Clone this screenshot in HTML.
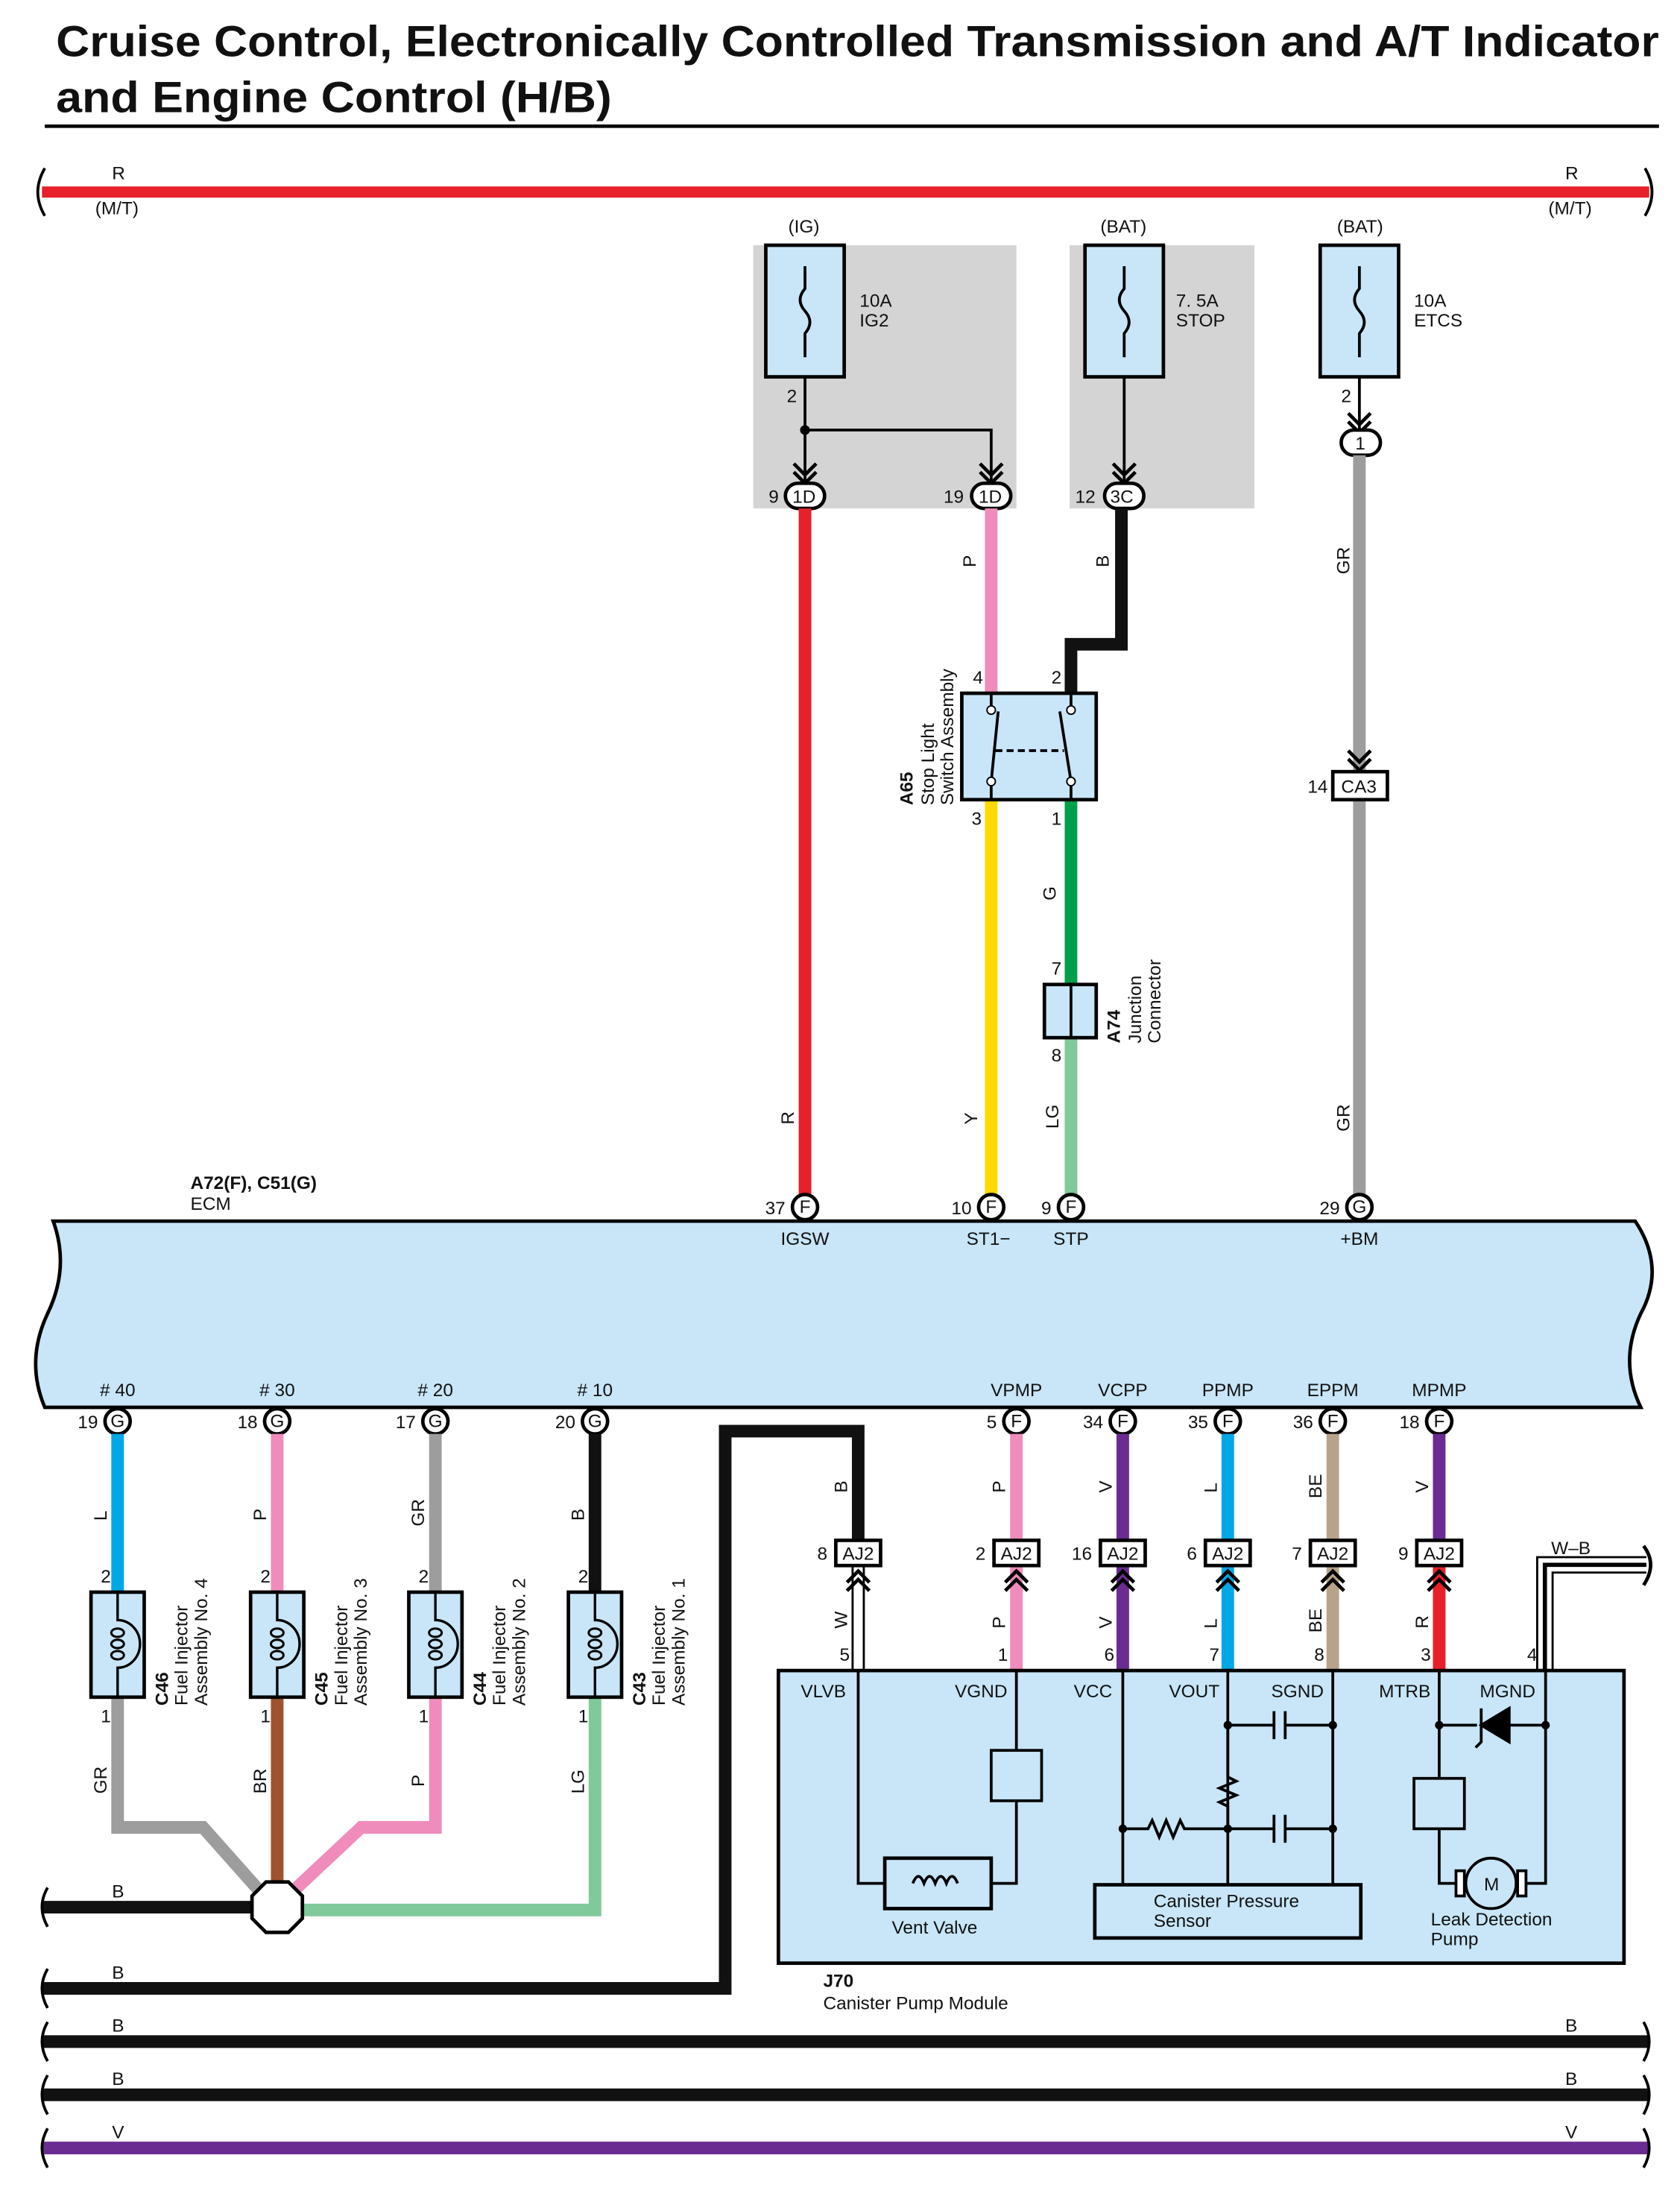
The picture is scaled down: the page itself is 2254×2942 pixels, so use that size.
<!DOCTYPE html>
<html><head><meta charset="utf-8"><style>
html,body{margin:0;padding:0;background:#fff}
svg{display:block}
text{font-family:"Liberation Sans",sans-serif;font-size:13px;fill:#111}
.t{font-weight:bold;font-size:31px}
.b{font-weight:bold}
</style></head><body>
<svg width="2254" height="2942" viewBox="0 0 1200 1566" xmlns="http://www.w3.org/2000/svg">
<defs>
<g id="chev"><path d="M-8,-12 L0,-4 L8,-12 M-8,-6 L0,2 L8,-6" fill="none" stroke="#000" stroke-width="2.5"/></g>
<g id="chevu"><path d="M-8,4 L0,-4 L8,4 M-8,10 L0,2 L8,10" fill="none" stroke="#000" stroke-width="2.5"/></g>
<g id="inj">
<rect x="-19" y="1137" width="38" height="75" fill="#c8e6f8" stroke="#000" stroke-width="2.5"/>
<path d="M0,1137 V1157 A8,8.5 0 0 1 0,1191 V1212" fill="none" stroke="#000" stroke-width="1.8"/>
<g fill="none" stroke="#000" stroke-width="1.6">
<ellipse cx="0" cy="1166" rx="4.5" ry="3"/><ellipse cx="0" cy="1174" rx="4.5" ry="3"/><ellipse cx="0" cy="1182" rx="4.5" ry="3"/>
</g>
<text x="-12" y="1130">2</text><text x="-12" y="1230">1</text>
</g>
</defs>
<text x="40" y="40" class="t" textLength="1145" lengthAdjust="spacingAndGlyphs">Cruise Control, Electronically Controlled Transmission and A/T Indicator</text>
<text x="40" y="80" class="t" textLength="397" lengthAdjust="spacingAndGlyphs">and Engine Control (H/B)</text>
<line x1="32" y1="90" x2="1185" y2="90" stroke="#000" stroke-width="2.5"/>

<line x1="30" y1="137" x2="1178" y2="137" stroke="#e8202a" stroke-width="8"/>
<path d="M32,120 Q22,137 32,154 M1175,120 Q1185,137 1175,154" fill="none" stroke="#000" stroke-width="2"/>
<text x="80" y="128">R</text><text x="68" y="153">(M/T)</text>
<text x="1118" y="128">R</text><text x="1106" y="153">(M/T)</text>

<rect x="538" y="175" width="188" height="188" fill="#d4d4d5"/>
<rect x="764" y="175" width="132" height="188" fill="#d4d4d5"/>
<text x="563" y="166">(IG)</text><text x="786" y="166">(BAT)</text><text x="955" y="166">(BAT)</text>
<g fill="#c8e6f8" stroke="#000" stroke-width="2.5">
<rect x="547" y="175" width="56" height="94"/><rect x="775" y="175" width="56" height="94"/><rect x="943" y="175" width="56" height="94"/>
</g>
<g fill="none" stroke="#000" stroke-width="2">
<path d="M575,190 L575,206 Q568,214 575,222 Q582,230 575,238 L575,255"/>
<path d="M803,190 L803,206 Q796,214 803,222 Q810,230 803,238 L803,255"/>
<path d="M971,190 L971,206 Q964,214 971,222 Q978,230 971,238 L971,255"/>
</g>
<text x="614" y="219">10A</text><text x="614" y="233">IG2</text>
<text x="840" y="219">7. 5A</text><text x="840" y="233">STOP</text>
<text x="1010" y="219">10A</text><text x="1010" y="233">ETCS</text>
<text x="562" y="287">2</text><text x="958" y="287">2</text>
<g stroke="#000" stroke-width="2" fill="none">
<path d="M575,269 V345 M575,307 H708 V345 M803,269 V345 M971,269 V310"/>
</g>
<circle cx="575" cy="307" r="3.5"/>
<use href="#chev" x="575" y="343"/><use href="#chev" x="708" y="343"/><use href="#chev" x="803" y="343"/><use href="#chev" x="971" y="307"/>
<g fill="#fff" stroke="#000" stroke-width="2.5">
<rect x="561" y="345" width="28" height="18" rx="9"/><rect x="694" y="345" width="28" height="18" rx="9"/><rect x="789" y="345" width="28" height="18" rx="9"/>
<rect x="958" y="307" width="28" height="18" rx="9"/>
</g>
<text x="566" y="359">1D</text><text x="699" y="359">1D</text><text x="793" y="359">3C</text><text x="968" y="321">1</text>
<text x="549" y="359">9</text><text x="674" y="359">19</text><text x="768" y="359">12</text>

<line x1="575" y1="363" x2="575" y2="853" stroke="#e8202a" stroke-width="9"/>
<line x1="708" y1="363" x2="708" y2="495" stroke="#f08cbb" stroke-width="9"/>
<path d="M801,363 V460 H765 V495" fill="none" stroke="#111" stroke-width="9"/>
<line x1="708" y1="571" x2="708" y2="853" stroke="#ffda00" stroke-width="9"/>
<line x1="765" y1="571" x2="765" y2="703" stroke="#00a04a" stroke-width="9"/>
<line x1="765" y1="741" x2="765" y2="853" stroke="#80c99b" stroke-width="9"/>
<line x1="971" y1="325" x2="971" y2="551" stroke="#9d9d9d" stroke-width="9"/>
<line x1="971" y1="571" x2="971" y2="853" stroke="#9d9d9d" stroke-width="9"/>
<use href="#chev" x="971" y="548"/>
<g font-size="13">
<text transform="translate(697,405) rotate(-90)">P</text>
<text transform="translate(792,405) rotate(-90)">B</text>
<text transform="translate(964,410) rotate(-90)">GR</text>
<text transform="translate(754,643) rotate(-90)">G</text>
<text transform="translate(567,803) rotate(-90)">R</text>
<text transform="translate(698,803) rotate(-90)">Y</text>
<text transform="translate(756,806) rotate(-90)">LG</text>
<text transform="translate(964,808) rotate(-90)">GR</text>
</g>
<rect x="687" y="495" width="96" height="76" fill="#c8e6f8" stroke="#000" stroke-width="2.5"/>
<g stroke="#000" stroke-width="2" fill="none">
<path d="M708,495 V507 M708,558 V571 M708,558 L713,508 M765,495 V507 M765,558 V571 M765,558 L757,508"/>
<path d="M711,536 H760" stroke-dasharray="5,3"/>
</g>
<circle cx="708" cy="507" r="3" fill="#fff" stroke="#000"/><circle cx="708" cy="558" r="3" fill="#fff" stroke="#000"/>
<circle cx="765" cy="507" r="3" fill="#fff" stroke="#000"/><circle cx="765" cy="558" r="3" fill="#fff" stroke="#000"/>
<text x="695" y="488">4</text><text x="751" y="488">2</text><text x="694" y="589">3</text><text x="751" y="589">1</text>
<text transform="translate(652,575) rotate(-90)" class="b">A65</text>
<text transform="translate(667,575) rotate(-90)">Stop Light</text>
<text transform="translate(681,575) rotate(-90)">Switch Assembly</text>
<rect x="746" y="703" width="37" height="38" fill="#c8e6f8" stroke="#000" stroke-width="2.5"/>
<line x1="765" y1="703" x2="765" y2="741" stroke="#000" stroke-width="2"/>
<text x="751" y="696">7</text><text x="751" y="758">8</text>
<text transform="translate(800,745) rotate(-90)" class="b">A74</text>
<text transform="translate(815,745) rotate(-90)">Junction</text>
<text transform="translate(829,745) rotate(-90)">Connector</text>
<rect x="952" y="551" width="39" height="20" fill="#fff" stroke="#000" stroke-width="2.5"/>
<text x="958" y="566">CA3</text><text x="934" y="566">14</text>

<text x="136" y="849" class="b">A72(F), C51(G)</text><text x="136" y="864">ECM</text>
<path d="M38,872 H1168 Q1190,905 1172,938 Q1156,972 1172,1005 H32 Q18,972 34,938 Q50,905 38,872 Z" fill="#c8e6f8" stroke="#000" stroke-width="2.5"/>
<g fill="#fff" stroke="#000" stroke-width="2.5">
<circle cx="575" cy="862" r="9"/><circle cx="708" cy="862" r="9"/><circle cx="765" cy="862" r="9"/><circle cx="971" cy="862" r="9"/>
<circle cx="84" cy="1015" r="9"/><circle cx="198" cy="1015" r="9"/><circle cx="311" cy="1015" r="9"/><circle cx="425" cy="1015" r="9"/>
<circle cx="726" cy="1015" r="9"/><circle cx="802" cy="1015" r="9"/><circle cx="877" cy="1015" r="9"/><circle cx="952" cy="1015" r="9"/><circle cx="1028" cy="1015" r="9"/>
</g>
<g font-size="12" text-anchor="middle">
<text x="575" y="866">F</text><text x="708" y="866">F</text><text x="765" y="866">F</text><text x="971" y="866">G</text>
<text x="84" y="1019">G</text><text x="198" y="1019">G</text><text x="311" y="1019">G</text><text x="425" y="1019">G</text>
<text x="726" y="1019">F</text><text x="802" y="1019">F</text><text x="877" y="1019">F</text><text x="952" y="1019">F</text><text x="1028" y="1019">F</text>
</g>
<g text-anchor="end">
<text x="561" y="867">37</text><text x="694" y="867">10</text><text x="751" y="867">9</text><text x="957" y="867">29</text>
<text x="70" y="1020">19</text><text x="184" y="1020">18</text><text x="297" y="1020">17</text><text x="411" y="1020">20</text>
<text x="712" y="1020">5</text><text x="788" y="1020">34</text><text x="863" y="1020">35</text><text x="938" y="1020">36</text><text x="1014" y="1020">18</text>
</g>
<g text-anchor="middle">
<text x="575" y="889">IGSW</text><text x="706" y="889">ST1−</text><text x="765" y="889">STP</text><text x="971" y="889">+BM</text>
<text x="84" y="997"># 40</text><text x="198" y="997"># 30</text><text x="311" y="997"># 20</text><text x="425" y="997"># 10</text>
<text x="726" y="997">VPMP</text><text x="802" y="997">VCPP</text><text x="877" y="997">PPMP</text><text x="952" y="997">EPPM</text><text x="1028" y="997">MPMP</text>
</g>

<g stroke-width="9" fill="none">
<line x1="84" y1="1024" x2="84" y2="1137" stroke="#00a8e6"/>
<line x1="198" y1="1024" x2="198" y2="1137" stroke="#f08cbb"/>
<line x1="311" y1="1024" x2="311" y2="1137" stroke="#9d9d9d"/>
<line x1="425" y1="1024" x2="425" y2="1137" stroke="#111"/>
<path d="M84,1212 V1305 H145 L185,1350" stroke="#9d9d9d"/>
<line x1="198" y1="1212" x2="198" y2="1350" stroke="#a0522d"/>
<path d="M311,1212 V1305 H258 L210,1350" stroke="#f08cbb"/>
<path d="M425,1212 V1364 H215" stroke="#80c99b"/>
<line x1="30" y1="1362" x2="182" y2="1362" stroke="#111"/>
</g>
<polygon points="190,1344 206,1344 216,1354 216,1370 206,1380 190,1380 180,1370 180,1354" fill="#fff" stroke="#000" stroke-width="2.5"/>
<path d="M34,1348 Q26,1362 34,1376" fill="none" stroke="#000" stroke-width="2"/>
<text x="80" y="1355">B</text>
<g>
<text transform="translate(76,1086) rotate(-90)">L</text>
<text transform="translate(190,1086) rotate(-90)">P</text>
<text transform="translate(303,1090) rotate(-90)">GR</text>
<text transform="translate(417,1086) rotate(-90)">B</text>
<text transform="translate(76,1281) rotate(-90)">GR</text>
<text transform="translate(190,1281) rotate(-90)">BR</text>
<text transform="translate(303,1276) rotate(-90)">P</text>
<text transform="translate(417,1281) rotate(-90)">LG</text>
</g>
<use href="#inj" x="84"/><use href="#inj" x="198"/><use href="#inj" x="311"/><use href="#inj" x="425"/>
<g>
<text transform="translate(120,1218) rotate(-90)" class="b">C46</text><text transform="translate(134,1218) rotate(-90)">Fuel Injector</text><text transform="translate(148,1218) rotate(-90)">Assembly No.  4</text>
<text transform="translate(234,1218) rotate(-90)" class="b">C45</text><text transform="translate(248,1218) rotate(-90)">Fuel Injector</text><text transform="translate(262,1218) rotate(-90)">Assembly No.  3</text>
<text transform="translate(347,1218) rotate(-90)" class="b">C44</text><text transform="translate(361,1218) rotate(-90)">Fuel Injector</text><text transform="translate(375,1218) rotate(-90)">Assembly No.  2</text>
<text transform="translate(461,1218) rotate(-90)" class="b">C43</text><text transform="translate(475,1218) rotate(-90)">Fuel Injector</text><text transform="translate(489,1218) rotate(-90)">Assembly No.  1</text>
</g>

<g stroke-width="9" fill="none">
<path d="M30,1420 H518 V1022 H613 V1100" stroke="#111"/>
<line x1="726" y1="1024" x2="726" y2="1100" stroke="#f08cbb"/>
<line x1="802" y1="1024" x2="802" y2="1100" stroke="#6a2c91"/>
<line x1="877" y1="1024" x2="877" y2="1100" stroke="#00a8e6"/>
<line x1="952" y1="1024" x2="952" y2="1100" stroke="#b8a38a"/>
<line x1="1028" y1="1024" x2="1028" y2="1100" stroke="#6a2c91"/>
<line x1="726" y1="1118" x2="726" y2="1193" stroke="#f08cbb"/>
<line x1="802" y1="1118" x2="802" y2="1193" stroke="#6a2c91"/>
<line x1="877" y1="1118" x2="877" y2="1193" stroke="#00a8e6"/>
<line x1="952" y1="1118" x2="952" y2="1193" stroke="#b8a38a"/>
<line x1="1028" y1="1118" x2="1028" y2="1193" stroke="#e8202a"/>
</g>
<g stroke="#000" stroke-width="1.5" fill="none"><path d="M609,1118 V1193 M617,1118 V1193"/></g>
<g fill="none">
<path d="M1103.5,1193 V1117.5 H1176" stroke="#000" stroke-width="12.5"/>
<path d="M1103.5,1195 V1117.5 H1178" stroke="#fff" stroke-width="9.5"/>
<path d="M1103.5,1193 V1117.5 H1176" stroke="#000" stroke-width="3"/>
<path d="M1174,1104 Q1184,1117 1174,1132" stroke="#000" stroke-width="2.5"/>
</g>
<path d="M34,1406 Q26,1420 34,1434" fill="none" stroke="#000" stroke-width="2"/>
<text x="80" y="1413">B</text>
<text x="1108" y="1110">W–B</text>
<g fill="#fff" stroke="#000" stroke-width="2.5">
<rect x="597" y="1100" width="32" height="18"/><rect x="710" y="1100" width="32" height="18"/><rect x="786" y="1100" width="32" height="18"/><rect x="861" y="1100" width="32" height="18"/><rect x="936" y="1100" width="32" height="18"/><rect x="1012" y="1100" width="32" height="18"/>
</g>
<g font-size="12" text-anchor="middle">
<text x="613" y="1114">AJ2</text><text x="726" y="1114">AJ2</text><text x="802" y="1114">AJ2</text><text x="877" y="1114">AJ2</text><text x="952" y="1114">AJ2</text><text x="1028" y="1114">AJ2</text>
</g>
<g text-anchor="end"><text x="591" y="1114">8</text><text x="704" y="1114">2</text><text x="780" y="1114">16</text><text x="855" y="1114">6</text><text x="930" y="1114">7</text><text x="1006" y="1114">9</text></g>
<use href="#chevu" x="613" y="1126"/><use href="#chevu" x="726" y="1126"/><use href="#chevu" x="802" y="1126"/><use href="#chevu" x="877" y="1126"/><use href="#chevu" x="952" y="1126"/><use href="#chevu" x="1028" y="1126"/>
<g>
<text transform="translate(605,1066) rotate(-90)">B</text><text transform="translate(718,1066) rotate(-90)">P</text><text transform="translate(794,1066) rotate(-90)">V</text><text transform="translate(869,1066) rotate(-90)">L</text><text transform="translate(944,1070) rotate(-90)">BE</text><text transform="translate(1020,1066) rotate(-90)">V</text>
<text transform="translate(605,1163) rotate(-90)">W</text><text transform="translate(718,1163) rotate(-90)">P</text><text transform="translate(794,1163) rotate(-90)">V</text><text transform="translate(869,1163) rotate(-90)">L</text><text transform="translate(944,1166) rotate(-90)">BE</text><text transform="translate(1020,1163) rotate(-90)">R</text>
</g>
<g text-anchor="end"><text x="607" y="1186">5</text><text x="720" y="1186">1</text><text x="796" y="1186">6</text><text x="871" y="1186">7</text><text x="946" y="1186">8</text><text x="1022" y="1186">3</text><text x="1098" y="1186">4</text></g>

<rect x="556" y="1193" width="604" height="209" fill="#c8e6f8" stroke="#000" stroke-width="2.5"/>
<text x="572" y="1212">VLVB</text><text x="682" y="1212">VGND</text><text x="767" y="1212">VCC</text><text x="835" y="1212">VOUT</text><text x="908" y="1212">SGND</text><text x="985" y="1212">MTRB</text><text x="1057" y="1212">MGND</text>
<g stroke="#000" stroke-width="2" fill="none">
<path d="M613,1193 V1345 H632"/>
<path d="M726,1193 V1250 M726,1286 V1345 H708"/>
<rect x="708" y="1250" width="36" height="36"/>
<rect x="632" y="1327" width="76" height="36" stroke-width="2.5"/>
<path d="M652,1345 q4,-10 8,0 q4,-10 8,0 q4,-10 8,0 q4,-10 8,0"/>
<path d="M802,1193 V1346 M877,1193 V1346 M952,1193 V1346"/>
<path d="M802,1306 H820 l3,-6 5,12 5,-12 5,12 5,-12 3,6 H877 V1290 l-6,-3 12,-5 -12,-5 12,-5 -6,-3 V1232"/>
<path d="M877,1232 H910 M918,1232 H952 M910,1222 V1242 M918,1222 V1242"/>
<path d="M877,1306 H910 M918,1306 H952 M910,1296 V1316 M918,1296 V1316"/>
<rect x="782" y="1346" width="190" height="38" stroke-width="2.5"/>
<path d="M1028,1193 V1270 M1028,1306 V1345 H1045 M1082,1345 H1104 V1193 M1028,1232 H1055 M1078,1232 H1104"/>
<rect x="1010" y="1270" width="36" height="36"/>
<path d="M1078,1220 V1244 L1058,1232 Z" fill="#000"/>
<path d="M1058,1220 V1244 l-4,4"/>
<circle cx="1065" cy="1345" r="18"/>
<rect x="1040" y="1336" width="6" height="18" fill="#fff"/><rect x="1084" y="1336" width="6" height="18" fill="#fff"/>
</g>
<g fill="#000"><circle cx="802" cy="1306" r="3"/><circle cx="877" cy="1306" r="3"/><circle cx="877" cy="1232" r="3"/><circle cx="952" cy="1232" r="3"/><circle cx="952" cy="1306" r="3"/><circle cx="1028" cy="1232" r="3"/><circle cx="1104" cy="1232" r="3"/></g>
<text x="1060" y="1350">M</text>
<text x="637" y="1381">Vent Valve</text>
<text x="824" y="1362">Canister Pressure</text><text x="824" y="1376">Sensor</text>
<text x="1022" y="1375">Leak Detection</text><text x="1022" y="1389">Pump</text>
<text x="588" y="1419" class="b">J70</text><text x="588" y="1435">Canister Pump Module</text>

<line x1="30" y1="1458" x2="1178" y2="1458" stroke="#111" stroke-width="9"/>
<line x1="30" y1="1496" x2="1178" y2="1496" stroke="#111" stroke-width="9"/>
<line x1="30" y1="1534" x2="1178" y2="1534" stroke="#6a2c91" stroke-width="9"/>
<g fill="none" stroke="#000" stroke-width="2">
<path d="M34,1444 Q26,1458 34,1472 M34,1482 Q26,1496 34,1510 M34,1520 Q26,1534 34,1548"/>
<path d="M1174,1444 Q1182,1458 1174,1472 M1174,1482 Q1182,1496 1174,1510 M1174,1520 Q1182,1534 1174,1548"/>
</g>
<text x="80" y="1451">B</text><text x="1118" y="1451">B</text>
<text x="80" y="1489">B</text><text x="1118" y="1489">B</text>
<text x="80" y="1527">V</text><text x="1118" y="1527">V</text>
</svg>
</body></html>
